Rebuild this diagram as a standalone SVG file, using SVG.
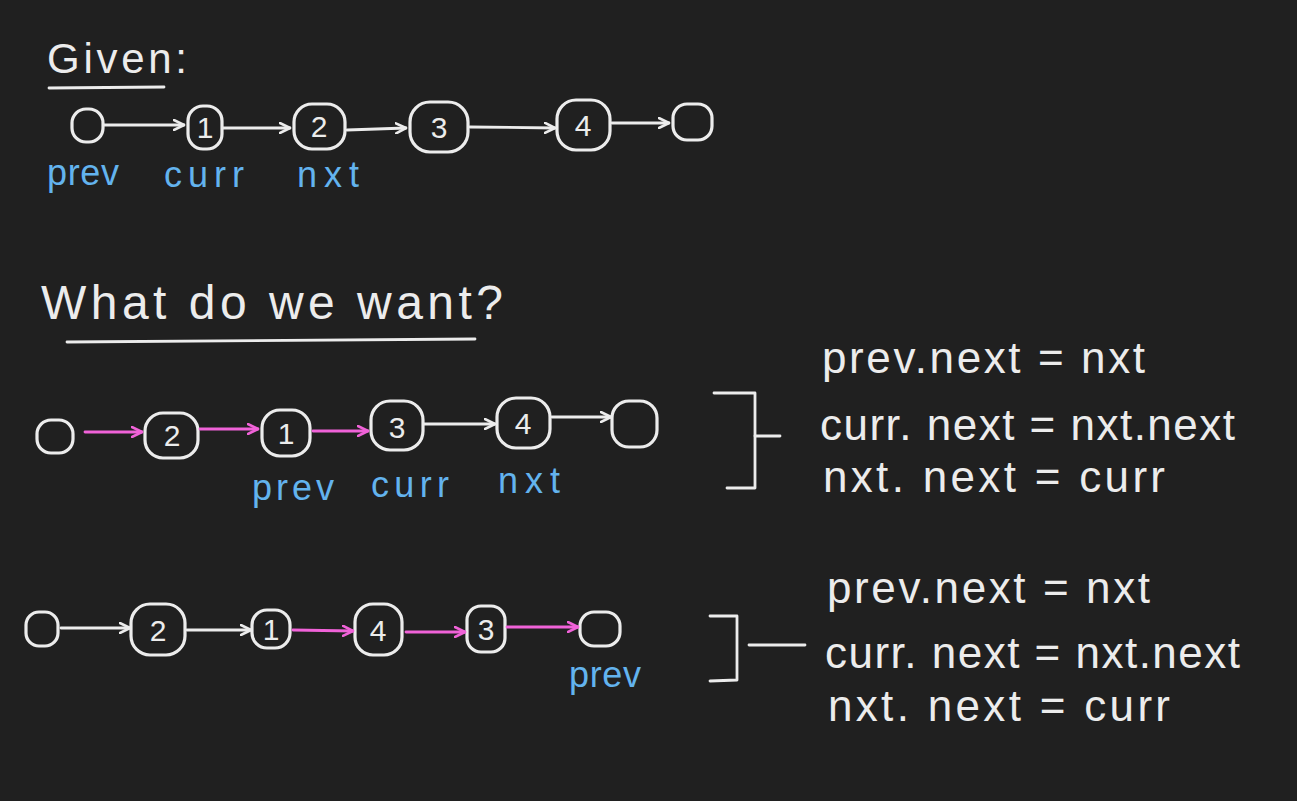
<svg xmlns="http://www.w3.org/2000/svg" width="1297" height="801" viewBox="0 0 1297 801">
<defs>
<marker id="ahW" viewBox="0 0 12 12" refX="11" refY="6" markerWidth="12" markerHeight="12" markerUnits="userSpaceOnUse" orient="auto">
<path d="M1,1 L11,6 L1,11" fill="none" stroke="#ececec" stroke-width="2.6" stroke-linecap="round" stroke-linejoin="round"/>
</marker>
<marker id="ahP" viewBox="0 0 12 12" refX="11" refY="6" markerWidth="12" markerHeight="12" markerUnits="userSpaceOnUse" orient="auto">
<path d="M1,1 L11,6 L1,11" fill="none" stroke="#f062d8" stroke-width="2.6" stroke-linecap="round" stroke-linejoin="round"/>
</marker>
</defs>
<style>
.bg{fill:#202020}
.node rect{fill:none;stroke:#ececec;stroke-width:3.2}
.num{fill:#ececec;font-family:"Liberation Sans",sans-serif;font-size:30px;text-anchor:middle}
.w{stroke:#ececec;stroke-width:2.8;fill:none;stroke-linecap:round}
.p{stroke:#f062d8;stroke-width:2.8;fill:none;stroke-linecap:round}
.t{fill:#ececec;font-family:"Liberation Sans",sans-serif}
.lbl{fill:#63b3ee;font-family:"Liberation Sans",sans-serif;font-size:36px}
.eq{fill:#ececec;font-family:"Liberation Sans",sans-serif;font-size:44px}
.br{stroke:#ececec;stroke-width:2.8;fill:none;stroke-linecap:round;stroke-linejoin:round}
</style>
<rect class="bg" x="0" y="0" width="1297" height="801"/>

<!-- Section 1 -->
<g id="title1">
<text class="t" x="47" y="73" font-size="42" textLength="140">Given:</text>
<line class="br" x1="49" y1="88" x2="164" y2="87"/>
</g>
<g id="r1n0" class="node"><rect x="72" y="109" width="31" height="33" rx="14"/></g>
<g id="r1n1" class="node"><rect x="188" y="106" width="34" height="43" rx="15"/><text class="num" x="205" y="138">1</text></g>
<g id="r1n2" class="node"><rect x="294" y="104" width="51" height="45" rx="18"/><text class="num" x="319" y="137">2</text></g>
<g id="r1n3" class="node"><rect x="410" y="102" width="58" height="50" rx="20"/><text class="num" x="439" y="138">3</text></g>
<g id="r1n4" class="node"><rect x="557" y="100" width="53" height="50" rx="19"/><text class="num" x="583" y="136">4</text></g>
<g id="r1n5" class="node"><rect x="673" y="104" width="39" height="36" rx="14"/></g>
<g id="r1labels">
<text class="lbl" x="47" y="185" textLength="72">prev</text>
<text class="lbl" x="164" y="187" textLength="80">curr</text>
<text class="lbl" x="297" y="187" textLength="62">nxt</text>
</g>

<!-- Section 2 -->
<g id="title2">
<text class="t" x="41" y="319" font-size="48" textLength="462">What do we want?</text>
<line class="br" x1="67" y1="342" x2="475" y2="339"/>
</g>
<g id="r2n0" class="node"><rect x="37" y="420" width="36" height="33" rx="14"/></g>
<g id="r2n2" class="node"><rect x="145" y="413" width="53" height="45" rx="18"/><text class="num" x="172" y="446">2</text></g>
<g id="r2n1" class="node"><rect x="262" y="410" width="48" height="46" rx="18"/><text class="num" x="286" y="444">1</text></g>
<g id="r2n3" class="node"><rect x="371" y="401" width="52" height="49" rx="19"/><text class="num" x="397" y="438">3</text></g>
<g id="r2n4" class="node"><rect x="497" y="398" width="53" height="50" rx="19"/><text class="num" x="523" y="434">4</text></g>
<g id="r2n5" class="node"><rect x="612" y="401" width="45" height="46" rx="17"/></g>
<g id="r2labels">
<text class="lbl" x="252" y="500" textLength="82">prev</text>
<text class="lbl" x="371" y="497" textLength="78">curr</text>
<text class="lbl" x="498" y="493" textLength="62">nxt</text>
</g>
<g id="bracket2">
<path class="br" d="M714,393 L755,393 L755,488 L727,488"/>
<line class="br" x1="755" y1="436" x2="780" y2="436"/>
</g>
<g id="eq2">
<text class="eq" x="822" y="373" textLength="323">prev.next = nxt</text>
<text class="eq" x="820" y="440" textLength="415">curr. next = nxt.next</text>
<text class="eq" x="823" y="492" textLength="342">nxt. next = curr</text>
</g>

<!-- Section 3 -->
<g id="r3n0" class="node"><rect x="26" y="612" width="32" height="34" rx="13"/></g>
<g id="r3n2" class="node"><rect x="131" y="604" width="54" height="51" rx="19"/><text class="num" x="158" y="641">2</text></g>
<g id="r3n1" class="node"><rect x="252" y="610" width="38" height="38" rx="15"/><text class="num" x="271" y="640">1</text></g>
<g id="r3n4" class="node"><rect x="355" y="604" width="47" height="51" rx="18"/><text class="num" x="378" y="641">4</text></g>
<g id="r3n3" class="node"><rect x="467" y="606" width="38" height="46" rx="14"/><text class="num" x="486" y="640">3</text></g>
<g id="r3n5" class="node"><rect x="580" y="612" width="40" height="34" rx="14"/></g>
<g id="r3labels">
<text class="lbl" x="569" y="687" textLength="72">prev</text>
</g>
<g id="bracket3">
<path class="br" d="M710,616 L737,616 L737,680 L710,681"/>
<line class="br" x1="749" y1="645" x2="805" y2="645"/>
</g>
<g id="eq3">
<text class="eq" x="827" y="603" textLength="323">prev.next = nxt</text>
<text class="eq" x="825" y="668" textLength="415">curr. next = nxt.next</text>
<text class="eq" x="828" y="721" textLength="342">nxt. next = curr</text>
</g>

<!-- connectors -->
<g id="connectors">
<line class="w" x1="104" y1="125" x2="184" y2="125" marker-end="url(#ahW)"/>
<line class="w" x1="223" y1="128" x2="290" y2="128" marker-end="url(#ahW)"/>
<line class="w" x1="347" y1="130" x2="406" y2="128" marker-end="url(#ahW)"/>
<line class="w" x1="470" y1="127" x2="555" y2="128" marker-end="url(#ahW)"/>
<line class="w" x1="612" y1="123" x2="669" y2="123" marker-end="url(#ahW)"/>

<line class="p" x1="85" y1="432" x2="142" y2="432" marker-end="url(#ahP)"/>
<line class="p" x1="200" y1="429" x2="258" y2="429" marker-end="url(#ahP)"/>
<line class="p" x1="313" y1="431" x2="368" y2="431" marker-end="url(#ahP)"/>
<line class="w" x1="424" y1="424" x2="495" y2="424" marker-end="url(#ahW)"/>
<line class="w" x1="552" y1="417" x2="611" y2="417" marker-end="url(#ahW)"/>

<line class="w" x1="61" y1="628" x2="130" y2="628" marker-end="url(#ahW)"/>
<line class="w" x1="187" y1="630" x2="251" y2="630" marker-end="url(#ahW)"/>
<line class="p" x1="293" y1="630" x2="353" y2="631" marker-end="url(#ahP)"/>
<line class="p" x1="406" y1="632" x2="465" y2="632" marker-end="url(#ahP)"/>
<line class="p" x1="507" y1="627" x2="578" y2="627" marker-end="url(#ahP)"/>
</g>
</svg>
